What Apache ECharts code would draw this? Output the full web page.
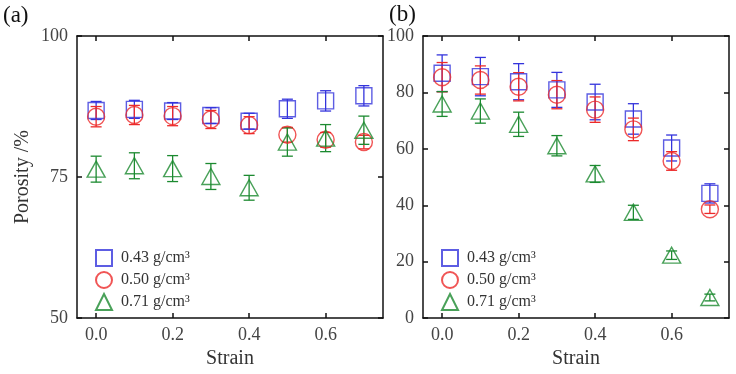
<!DOCTYPE html>
<html>
<head>
<meta charset="utf-8">
<script src="https://cdn.jsdelivr.net/npm/echarts@6/dist/echarts.min.js"></script>
<style>
  html, body { margin: 0; padding: 0; background: #fff; }
  #chart { width: 736px; height: 374px; }
</style>
</head>
<body>
<div id="chart"></div>
<script>
// strain values shared by both panels
const strain = [0.0, 0.1, 0.2, 0.3, 0.4, 0.5, 0.6, 0.7]
const xTicks = [0.0, 0.2, 0.4, 0.6]
const densities = ['0.43 g/cm³', '0.50 g/cm³', '0.71 g/cm³']

// panel (a)
const blueA = [86.8, 87.0, 86.7, 85.9, 84.9, 87.1, 88.5, 89.4]
const blueAErr = [1.6, 1.6, 1.5, 1.4, 1.4, 1.7, 1.8, 1.8]
const redA = [85.7, 86.0, 85.8, 85.2, 84.2, 82.5, 81.6, 81.2]
const redAErr = [1.8, 1.7, 1.7, 1.6, 1.5, 1.3, 1.3, 1.2]
const greenA = [76.4, 77.0, 76.5, 75.1, 73.1, 81.2, 81.9, 83.3]
const greenAErr = [2.3, 2.3, 2.3, 2.3, 2.2, 2.5, 2.4, 2.5]

// panel (b)
const blueB = [86.8, 85.6, 83.8, 80.9, 76.6, 70.6, 60.3, 44.2]
const blueBErr = [6.5, 6.8, 6.4, 6.2, 6.3, 5.4, 4.6, 3.4]
const redB = [85.4, 84.4, 82.0, 79.2, 73.9, 66.9, 55.7, 38.6]
const redBErr = [5.2, 5.0, 5.0, 5.0, 4.5, 4.0, 3.3, 1.5]
const greenB = [75.9, 73.4, 68.7, 61.1, 51.1, 37.5, 22.3, 7.3]
const greenBErr = [4.4, 4.3, 4.3, 3.6, 3.0, 2.5, 1.5, 1.2]

const colors = ['#3434dc', '#ec2a2a', '#1c8a30']
const symbols = ['rect', 'circle', 'triangle']
const symbolSizes = [[16, 16], 17, [18, 16]]
const font = 'Liberation Serif'

function pts(vals, errs) {
  return strain.map((s, i) => [s, vals[i], errs[i]])
}

function errorBars(idx, data, color) {
  return {
    type: 'custom',
    xAxisIndex: idx,
    yAxisIndex: idx,
    data: data,
    silent: true,
    z: 3,
    renderItem: function(params, api) {
      const x = api.value(0)
      const y = api.value(1)
      const e = api.value(2)
      const top = api.coord([x, y + e])
      const bot = api.coord([x, y - e])
      const w = 5.5
      const st = { stroke: color, lineWidth: 1.3 }
      return {
        type: 'group',
        children: [
          { type: 'line', shape: { x1: top[0], y1: top[1], x2: bot[0], y2: bot[1] }, style: st },
          { type: 'line', shape: { x1: top[0] - w, y1: top[1], x2: top[0] + w, y2: top[1] }, style: st },
          { type: 'line', shape: { x1: bot[0] - w, y1: bot[1], x2: bot[0] + w, y2: bot[1] }, style: st }
        ]
      }
    }
  }
}

function markers(idx, k, data) {
  return {
    name: densities[k],
    type: 'scatter',
    xAxisIndex: idx,
    yAxisIndex: idx,
    symbol: symbols[k],
    symbolSize: symbolSizes[k],
    data: data.map(d => [d[0], d[1]]),
    z: 4,
    itemStyle: {
      color: 'rgba(255,255,255,0)',
      borderColor: colors[k],
      borderWidth: 1.4
    }
  }
}

function xAxes(grid) {
  const base = {
    type: 'value',
    gridIndex: grid,
    min: -0.05,
    max: 0.75,
    splitLine: { show: false },
    axisLine: { onZero: false, lineStyle: { color: '#111', width: 1.5 } },
    axisTick: { inside: true, length: 5, customValues: xTicks, lineStyle: { color: '#111', width: 1.5 } }
  }
  return [
    Object.assign({}, base, {
      position: 'bottom',
      name: 'Strain',
      nameLocation: 'middle',
      nameGap: 30,
      nameTextStyle: { fontFamily: font, fontSize: 20, color: '#333' },
      axisLabel: {
        customValues: xTicks,
        margin: 8,
        formatter: v => v.toFixed(1),
        fontFamily: font,
        fontSize: 18,
        color: '#444'
      }
    }),
    Object.assign({}, base, { position: 'top', axisLabel: { show: false } })
  ]
}

function yAxes(grid, min, max, step, name) {
  const base = {
    type: 'value',
    gridIndex: grid,
    min: min,
    max: max,
    interval: step,
    splitLine: { show: false },
    axisLine: { show: true, onZero: false, lineStyle: { color: '#111', width: 1.5 } },
    axisTick: { inside: true, length: 5, lineStyle: { color: '#111', width: 1.5 } }
  }
  const left = Object.assign({}, base, {
    position: 'left',
    axisLabel: { margin: 9, fontFamily: font, fontSize: 18, color: '#444' }
  })
  if (name) {
    Object.assign(left, {
      name: name,
      nameLocation: 'middle',
      nameGap: 44,
      nameTextStyle: { fontFamily: font, fontSize: 20, color: '#333' }
    })
  }
  return [left, Object.assign({}, base, { position: 'right', axisLabel: { show: false } })]
}

function legend(left) {
  return {
    orient: 'vertical',
    left: left,
    top: 249,
    padding: 0,
    itemWidth: 16,
    itemHeight: 16,
    itemGap: 4,
    selectedMode: false,
    textStyle: { fontFamily: font, fontSize: 16, lineHeight: 16, color: '#333', padding: [0, 0, 0, 4] },
    data: densities
  }
}

const dataA = [pts(blueA, blueAErr), pts(redA, redAErr), pts(greenA, greenAErr)]
const dataB = [pts(blueB, blueBErr), pts(redB, redBErr), pts(greenB, greenBErr)]

const series = []
dataA.forEach((d, k) => series.push(errorBars(0, d, colors[k])))
dataA.forEach((d, k) => series.push(markers(0, k, d)))
dataB.forEach((d, k) => series.push(errorBars(2, d, colors[k])))
dataB.forEach((d, k) => series.push(markers(2, k, d)))

const chart = echarts.init(document.getElementById('chart'))
chart.setOption({
  animation: false,
  backgroundColor: '#fff',
  grid: [
    { left: 77, right: 353, top: 36, bottom: 51 },
    { left: 423, right: 7, top: 36, bottom: 51 }
  ],
  xAxis: xAxes(0).concat(xAxes(1)),
  yAxis: yAxes(0, 50, 100, 25, 'Porosity /%').concat(yAxes(1, 0, 100, 20)),
  legend: [legend(95), legend(441)],
  graphic: [
    { type: 'text', left: 3, top: 4, style: { text: '(a)', fontFamily: font, fontSize: 23, fill: '#111' } },
    { type: 'text', left: 389, top: 3, style: { text: '(b)', fontFamily: font, fontSize: 23, fill: '#111' } }
  ],
  series: series
})
</script>
</body>
</html>
